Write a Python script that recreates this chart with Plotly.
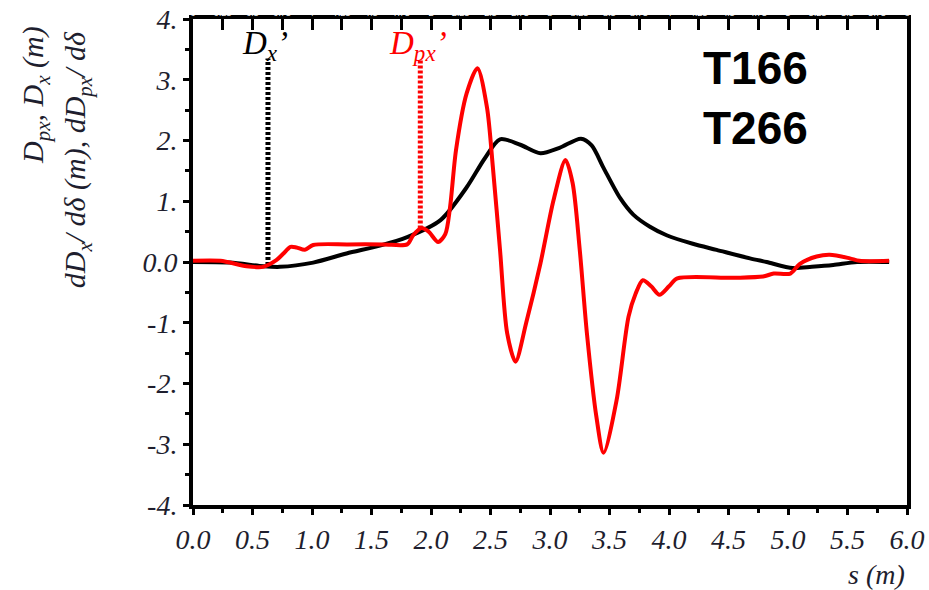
import plotly.graph_objects as go

# ---- data ----
s_dx = [0.0, 0.31, 0.59, 0.73, 1.01, 1.29, 1.57, 1.80, 2.08, 2.30, 2.45, 2.58, 2.75, 2.92,
        3.08, 3.26, 3.35, 3.45, 3.59, 3.70, 3.84, 3.98, 4.20, 4.40, 4.68, 4.82, 5.04, 5.20,
        5.38, 5.58, 5.85]
dx = [0.0, -0.01, -0.07, -0.08, -0.01, 0.14, 0.27, 0.41, 0.69, 1.23, 1.70, 2.02, 1.93, 1.79,
      1.88, 2.03, 1.92, 1.55, 1.05, 0.78, 0.58, 0.44, 0.30, 0.20, 0.06, 0.0, -0.10, -0.08,
      -0.05, 0.0, 0.0]

s_dpx = [0.0, 0.23, 0.45, 0.59, 0.70, 0.76, 0.82, 0.87, 0.94, 1.01, 1.30, 1.60, 1.80, 1.85,
         1.92, 1.98, 2.06, 2.12, 2.16, 2.21, 2.30, 2.39, 2.47, 2.52, 2.58, 2.64, 2.71, 2.80,
         2.92, 3.03, 3.13, 3.19, 3.25, 3.31, 3.39, 3.45, 3.56, 3.66, 3.72, 3.78, 3.85, 3.92,
         4.00, 4.07, 4.54, 4.79, 4.88, 5.02, 5.10, 5.24, 5.35, 5.52, 5.60, 5.85]
dpx = [0.02, 0.02, -0.07, -0.08, 0.03, 0.14, 0.25, 0.24, 0.20, 0.28, 0.29, 0.29, 0.29, 0.44,
       0.56, 0.50, 0.33, 0.46, 0.90, 1.84, 2.78, 3.19, 2.55, 1.56, 0.20, -1.17, -1.64, -1.00,
       -0.02, 1.02, 1.68, 1.30, 0.20, -1.17, -2.55, -3.14, -2.27, -0.90, -0.52, -0.30, -0.40,
       -0.54, -0.40, -0.27, -0.26, -0.24, -0.19, -0.19, -0.03, 0.09, 0.12, 0.06, 0.02, 0.02]

# marker lines (position s, bottom, top)
mark_dx_s = [0.63, 0.63]
mark_dx_y = [-0.05, 3.35]
mark_dpx_s = [1.91, 1.91]
mark_dpx_y = [0.55, 3.35]

x_ticks = [0.0, 0.5, 1.0, 1.5, 2.0, 2.5, 3.0, 3.5, 4.0, 4.5, 5.0, 5.5, 6.0]
x_ticktext = ["0.0", "0.5", "1.0", "1.5", "2.0", "2.5", "3.0", "3.5", "4.0", "4.5", "5.0", "5.5", "6.0"]
y_ticks = [-4, -3, -2, -1, 0, 1, 2, 3, 4]
y_ticktext = ["-4.", "-3.", "-2.", "-1.", "0.0", "1.", "2.", "3.", "4."]

SERIF = "Liberation Serif, Times New Roman, serif"
TXT = "#1e1e2e"

fig = go.Figure()
fig.add_trace(go.Scatter(x=mark_dx_s, y=mark_dx_y, mode="lines",
                         line=dict(color="black", width=5, dash="3px,2px"),
                         hoverinfo="skip", showlegend=False))
fig.add_trace(go.Scatter(x=mark_dpx_s, y=mark_dpx_y, mode="lines",
                         line=dict(color="red", width=5, dash="3px,2px"),
                         hoverinfo="skip", showlegend=False))
fig.add_trace(go.Scatter(x=s_dx, y=dx, mode="lines",
                         line=dict(color="black", width=4, shape="spline", smoothing=0.8),
                         showlegend=False, name="Dx"))
fig.add_trace(go.Scatter(x=s_dpx, y=dpx, mode="lines",
                         line=dict(color="red", width=4, shape="spline", smoothing=0.8),
                         showlegend=False, name="Dpx"))
# invisible trace so the top (inward-tick) axis is drawn
fig.add_trace(go.Scatter(x=[x_ticks[0], x_ticks[-1]], y=[y_ticks[0], y_ticks[0]],
                         xaxis="x2", mode="lines", line=dict(width=0, color="rgba(0,0,0,0)"),
                         hoverinfo="skip", showlegend=False))

fig.update_layout(
    width=929, height=590,
    margin=dict(l=193, r=22, t=19, b=85, autoexpand=False),
    paper_bgcolor="white", plot_bgcolor="rgba(0,0,0,0)",
    xaxis=dict(range=[0, 6], tickvals=x_ticks, ticktext=x_ticktext, automargin=False,
               showgrid=False, zeroline=False,
               showline=True, linecolor="black", linewidth=4, mirror=True,
               ticks="outside", ticklen=6, tickwidth=3, tickcolor="black",
               minor=dict(dtick=0.25, ticks="outside", ticklen=4, tickwidth=3, tickcolor="black"),
               tickfont=dict(family=SERIF, size=28, style="italic", color=TXT)),
    xaxis2=dict(range=[0, 6], overlaying="x", side="top", anchor="y", automargin=False,
                tickmode="linear", tick0=0, dtick=0.25,
                showticklabels=True, tickfont=dict(size=9, color="white"),
                showgrid=False, zeroline=False, showline=False,
                ticks="inside", ticklen=11, tickwidth=3, tickcolor="black"),
    yaxis=dict(range=[-4, 4], tickvals=y_ticks, ticktext=y_ticktext, automargin=False,
               showgrid=False, zeroline=False,
               showline=True, linecolor="black", linewidth=4, mirror=True,
               ticks="outside", ticklen=6, tickwidth=3, tickcolor="black",
               minor=dict(dtick=0.5, ticks="outside", ticklen=4, tickwidth=3, tickcolor="black"),
               tickfont=dict(family=SERIF, size=28, style="italic", color=TXT)),
)

annos = [
    dict(text="D<sub>x</sub>’", x=0.605, y=3.57, xref="x", yref="y",
         font=dict(family=SERIF, size=33, style="italic", color="black")),
    dict(text="D<sub>px</sub>’", x=1.89, y=3.57, xref="x", yref="y",
         font=dict(family=SERIF, size=33, style="italic", color="red")),
    dict(text="<b>T166<br>T266</b>", x=4.73, y=2.7, xref="x", yref="y",
         font=dict(family="Liberation Sans, Arial, sans-serif", size=46, color="black")),
    dict(text="s (m)", x=1.0, y=-0.144, xref="paper", yref="paper", xanchor="right",
         font=dict(family=SERIF, size=28, style="italic", color=TXT)),
    dict(text="D<sub>px</sub>, D<sub>x</sub> (m)", x=-0.221, y=0.844, xref="paper", yref="paper",
         textangle=-90, font=dict(family=SERIF, size=30, style="italic", color=TXT)),
    dict(text="dD<sub>x</sub>/ dδ (m), dD<sub>px</sub>/ dδ", x=-0.162, y=0.71,
         xref="paper", yref="paper", textangle=-90,
         font=dict(family=SERIF, size=30, style="italic", color=TXT)),
]
for a in annos:
    a.setdefault("showarrow", False)
    a.setdefault("xanchor", "center")
    a.setdefault("yanchor", "middle")
    fig.add_annotation(**a)

fig.write_html("out.html")
